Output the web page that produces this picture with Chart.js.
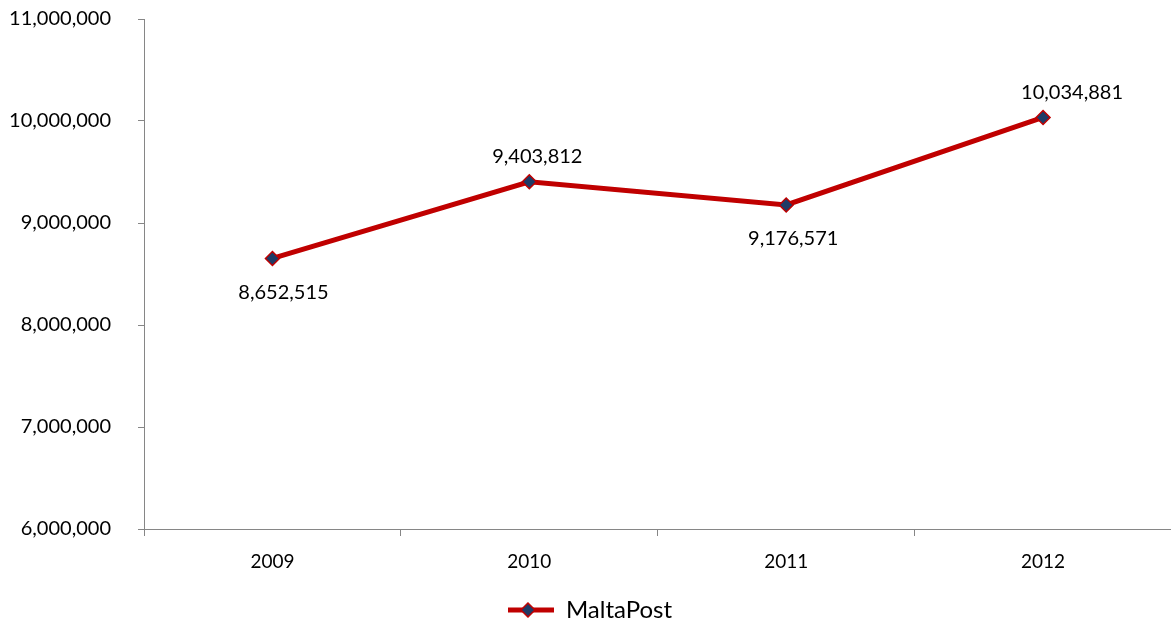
<!DOCTYPE html>
<html lang="en">
<head>
    <meta charset="UTF-8">
    <title>MaltaPost</title>
    <script src="https://cdn.jsdelivr.net/npm/chart.js"></script>
    <style>
        * {
            margin: 0;
            padding: 0;
            box-sizing: border-box;
        }

        body {
            background: #ffffff;
            width: 1171px;
            height: 618px;
            overflow: hidden;
        }

        /* canvas runs a little past the right edge so the x axis reaches it */
        #chartBox {
            position: relative;
            width: 1171px;
            height: 618px;
            overflow: hidden;
        }
    </style>
</head>
<body>
    <div id="chartBox">
        <canvas id="postChart" width="1180" height="618"></canvas>
    </div>

    <script>
        const years = ['2009', '2010', '2011', '2012'];
        const maltaPost = [8652515, 9403812, 9176571, 10034881];
        const yTicks = [6000000, 7000000, 8000000, 9000000, 10000000, 11000000];

        const lineRed = '#C00000';
        const markerBlue = '#1F3B66';
        const axisGrey = '#868686';
        const fontFamily = "Lato, 'Open Sans', sans-serif";

        // value labels: 2009/2011 under the point, 2010/2012 over it,
        // each nudged a little to the right
        const labelBelow = [true, false, true, false];
        const labelShift = [11, 8, 7, 29];

        const fmt = v => v.toLocaleString('en-US');

        // legend swatch: short red line with the diamond marker on it
        const makeSwatch = () => {
            const c = document.createElement('canvas');
            c.width = 46;
            c.height = 16;
            const g = c.getContext('2d');
            g.strokeStyle = lineRed;
            g.lineWidth = 5;
            g.beginPath();
            g.moveTo(0, 8);
            g.lineTo(46, 8);
            g.stroke();
            g.beginPath();
            g.moveTo(20, 1);
            g.lineTo(27, 8);
            g.lineTo(20, 15);
            g.lineTo(13, 8);
            g.closePath();
            g.fillStyle = markerBlue;
            g.fill();
            g.lineWidth = 1.5;
            g.strokeStyle = lineRed;
            g.stroke();
            return c;
        };

        const valueLabels = {
            id: 'valueLabels',
            afterDatasetsDraw(chart) {
                const ctx = chart.ctx;
                const meta = chart.getDatasetMeta(0);
                const data = chart.data.datasets[0].data;
                ctx.save();
                ctx.font = '20px ' + fontFamily;
                ctx.fillStyle = '#000000';
                ctx.textAlign = 'center';
                ctx.textBaseline = 'middle';
                meta.data.forEach((pt, i) => {
                    const dy = labelBelow[i] ? 34 : -25;
                    ctx.fillText(fmt(data[i]), pt.x + labelShift[i], pt.y + dy);
                });
                ctx.restore();
            }
        };

        const initChart = () => {
            const swatch = makeSwatch();
            const ctx = document.getElementById('postChart').getContext('2d');
            new Chart(ctx, {
                type: 'line',
                data: {
                    labels: years,
                    datasets: [{
                        label: 'MaltaPost',
                        data: maltaPost,
                        borderColor: lineRed,
                        borderWidth: 5,
                        backgroundColor: markerBlue,
                        pointStyle: 'rectRot',
                        pointRadius: 7,
                        pointHoverRadius: 7,
                        pointBackgroundColor: markerBlue,
                        pointBorderColor: lineRed,
                        pointBorderWidth: 1.5,
                        tension: 0,
                        fill: false
                    }]
                },
                options: {
                    responsive: false,
                    animation: false,
                    layout: {
                        padding: { top: 19, right: 0, bottom: -14, left: 0 }
                    },
                    plugins: {
                        tooltip: { enabled: false },
                        legend: {
                            position: 'bottom',
                            labels: {
                                usePointStyle: true,
                                pointStyleWidth: 46,
                                padding: 0,
                                color: '#000000',
                                font: { family: fontFamily, size: 24 },
                                generateLabels: (chart) => chart.data.datasets.map((ds, i) => ({
                                    text: ds.label,
                                    pointStyle: swatch,
                                    fontColor: '#000000',
                                    lineWidth: 0,
                                    datasetIndex: i
                                }))
                            }
                        }
                    },
                    scales: {
                        x: {
                            offset: true,
                            afterFit: (scale) => {
                                scale.height = 69;
                                scale.paddingLeft = 0;
                                scale.paddingRight = 0;
                            },
                            grid: {
                                offset: true,
                                drawOnChartArea: false,
                                tickLength: 7,
                                color: axisGrey
                            },
                            border: { color: axisGrey, width: 1 },
                            ticks: {
                                color: '#000000',
                                padding: 14,
                                font: { family: fontFamily, size: 19 }
                            }
                        },
                        y: {
                            min: 6000000,
                            max: 11000000,
                            afterFit: (scale) => {
                                scale.width = 144;
                                scale.paddingTop = 0;
                                scale.paddingBottom = 0;
                            },
                            afterBuildTicks: (scale) => {
                                scale.ticks = yTicks.map(v => ({ value: v }));
                            },
                            grid: {
                                drawOnChartArea: false,
                                tickLength: 6,
                                color: axisGrey
                            },
                            border: { color: axisGrey, width: 1 },
                            ticks: {
                                color: '#000000',
                                padding: 27,
                                font: { family: fontFamily, size: 20 },
                                callback: (v) => fmt(v)
                            }
                        }
                    }
                },
                plugins: [valueLabels]
            });
        };

        document.addEventListener('DOMContentLoaded', initChart);
    </script>
</body>
</html>
